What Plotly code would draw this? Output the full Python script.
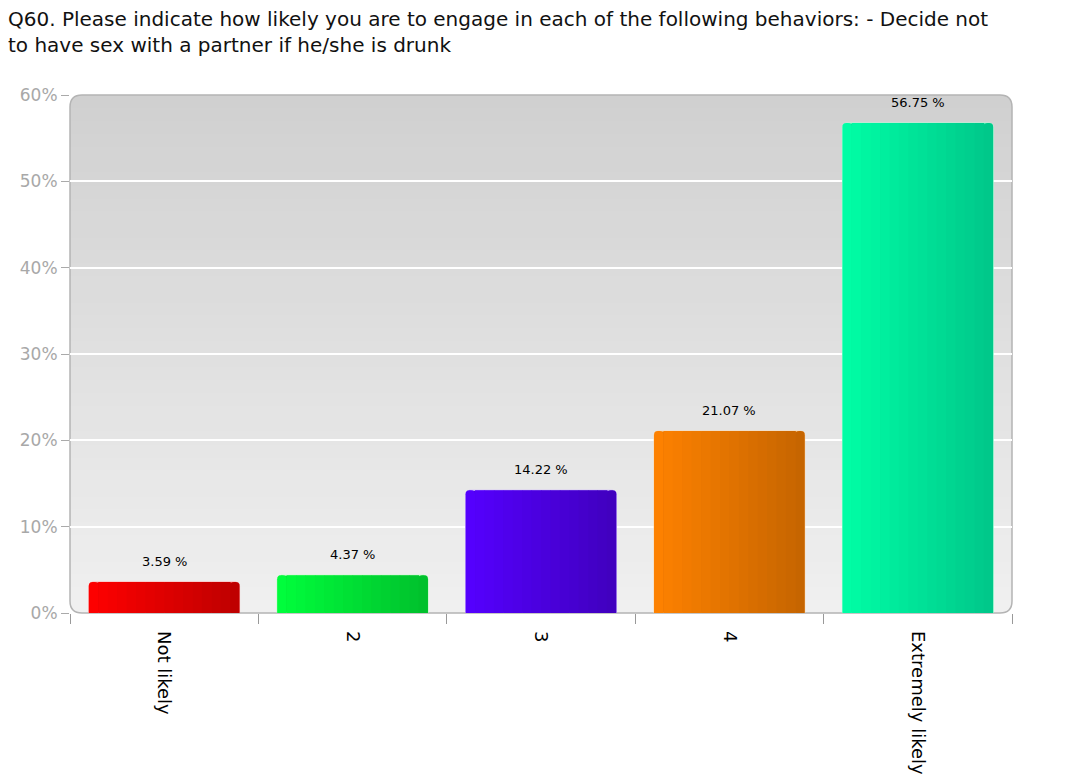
import plotly.graph_objects as go

categories = ["Not likely", "2", "3", "4", "Extremely likely"]
values = [3.59, 4.37, 14.22, 21.07, 56.75]
left_colors = ["#ff0000", "#00ff3c", "#5500ff", "#ff8200", "#00ffa6"]
right_colors = ["#bd0000", "#00bf2c", "#4000bd", "#c46400", "#00c689"]
edge_colors = ["#ffb0b0", "#b0ffb8", "#d0b8ff", "#ffd8a8", "#b0ffd8"]
y_ticks = [0, 10, 20, 30, 40, 50, 60]
y_tick_labels = ["0%", "10%", "20%", "30%", "40%", "50%", "60%"]
title_text = ("Q60. Please indicate how likely you are to engage in each of the following behaviors: - Decide not"
              "<br>to have sex with a partner if he/she is drunk")

FONT = "DejaVu Sans"


def hex2rgb(h):
    h = h.lstrip("#")
    return tuple(int(h[i:i + 2], 16) for i in (0, 2, 4))


def mix(a, b, t):
    ra, rb = hex2rgb(a), hex2rgb(b)
    return "rgb(%d,%d,%d)" % tuple(round(ra[k] + (rb[k] - ra[k]) * t) for k in range(3))


BAR_W = 0.8
N_SLICES = 16

fig = go.Figure()

# base bars (rounded, with light edge)
fig.add_trace(go.Bar(
    x=categories, y=values, width=BAR_W,
    marker=dict(color=[mix(l, r, 0.5) for l, r in zip(left_colors, right_colors)],
                line=dict(color=edge_colors, width=1), cornerradius=4),
    hoverinfo="x+y", showlegend=False,
))

# horizontal gradient slices
step = BAR_W / N_SLICES
for i in range(N_SLICES):
    t = (i + 0.5) / N_SLICES
    edge = i in (0, N_SLICES - 1)
    fig.add_trace(go.Bar(
        x=categories, y=values, width=step * (1.0 if edge else 1.05),
        offset=-BAR_W / 2 + i * step,
        marker=dict(color=[mix(l, r, t) for l, r in zip(left_colors, right_colors)],
                    line=dict(width=0), cornerradius=4 if edge else 0),
        hoverinfo="skip", showlegend=False,
    ))

# value labels above bars (x given as category index on the category axis)
annotations = [
    dict(x=i, y=v, xref="x", yref="y", text="%.2f %%" % v, showarrow=False,
         yanchor="bottom", yshift=11, font=dict(family=FONT, size=13, color="#000000"))
    for i, v in enumerate(values)
]

# plot-area vertical gradient background (style only)
shapes = []
n_strips = 40
top_c, bot_c = "#d0d0d0", "#f0f0f0"
for k in range(n_strips):
    y0 = k / n_strips
    y1 = (k + 1) / n_strips + 0.002
    shapes.append(dict(type="rect", xref="paper", yref="paper", x0=0, x1=1, y0=y0, y1=min(y1, 1),
                       fillcolor=mix(bot_c, top_c, (k + 0.5) / n_strips), line=dict(width=0), layer="below"))

W, H, R = 942.0, 518.0, 12.0
rx, ry = R / W, R / H
masks = [
    f"M 0,1 L 0,{1-ry} Q 0,1 {rx},1 Z",
    f"M 1,1 L {1-rx},1 Q 1,1 1,{1-ry} Z",
    f"M 0,0 L 0,{ry} Q 0,0 {rx},0 Z",
    f"M 1,0 L {1-rx},0 Q 1,0 1,{ry} Z",
]
for p in masks:
    shapes.append(dict(type="path", xref="paper", yref="paper", path=p, fillcolor="white",
                       line=dict(width=0), layer="below"))
border = (f"M {rx},1 L {1-rx},1 Q 1,1 1,{1-ry} L 1,{ry} Q 1,0 {1-rx},0 "
          f"L {rx},0 Q 0,0 0,{ry} L 0,{1-ry} Q 0,1 {rx},1 Z")
shapes.append(dict(type="path", xref="paper", yref="paper", path=border,
                   line=dict(color="#b4b4b4", width=1.5), layer="below"))

# the page adds an 8px body margin; margins compensate so the plot area sits at 70..1012 x 95..613
fig.update_layout(
    width=1076, height=783,
    margin=dict(l=62, r=72, t=87, b=178, pad=0),
    paper_bgcolor="white", plot_bgcolor="rgba(0,0,0,0)",
    barmode="overlay", bargap=0.2,
    shapes=shapes, annotations=annotations,
    title=dict(text=title_text, x=0.0, xanchor="left", xref="container",
               y=0.977, yanchor="top", yref="container",
               font=dict(family=FONT, size=20, color="#111111")),
    font=dict(family=FONT),
)
fig.update_yaxes(range=[0, 60], tickvals=y_ticks, ticktext=y_tick_labels,
                 showgrid=True, gridcolor="white", gridwidth=1.5, zeroline=False,
                 ticks="outside", ticklen=8, tickcolor="#aaaaaa", tickwidth=1,
                 tickfont=dict(family=FONT, size=17, color="#a8a8a8"),
                 showline=False)
fig.update_xaxes(type="category", categoryorder="array", categoryarray=categories,
                 tickson="boundaries", ticks="outside", ticklen=10, tickcolor="#999999",
                 tickangle=90, ticklabelstandoff=17,
                 tickfont=dict(family=FONT, size=18, color="#000000"),
                 showgrid=False, showline=False, zeroline=False)

fig.write_html("out.html")
